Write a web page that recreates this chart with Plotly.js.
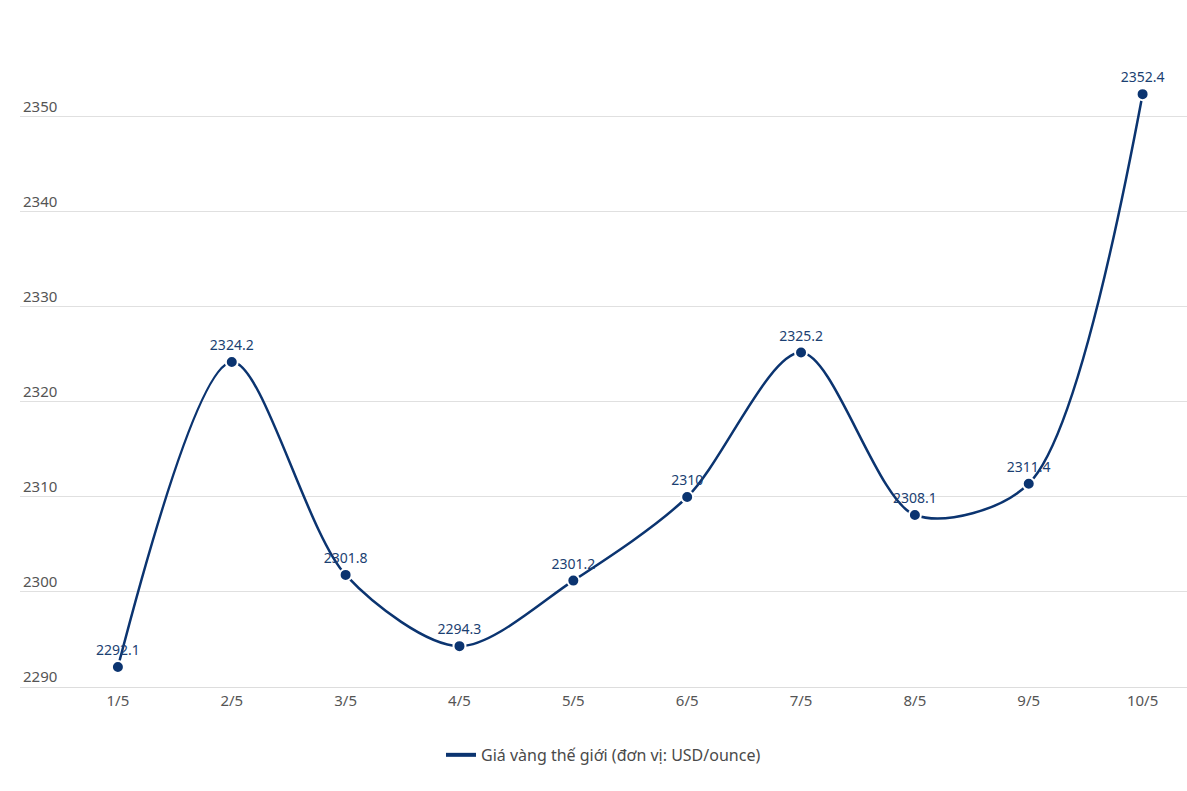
<!DOCTYPE html>
<html>
<head>
<meta charset="utf-8">
<script src="https://cdn.plot.ly/plotly-3.0.1.min.js"></script>
<style>
  body { margin: 0; background: #fff; }
  #chart_div { width: 1187px; height: 791px; }
</style>
</head>
<body>
<div id="chart_div"></div>
<script>
var day_labels = ['1/5', '2/5', '3/5', '4/5', '5/5', '6/5', '7/5', '8/5', '9/5', '10/5'];
var gold_prices = [2292.1, 2324.2, 2301.8, 2294.3, 2301.2, 2310, 2325.2, 2308.1, 2311.4, 2352.4];
var y_ticks = [2290, 2300, 2310, 2320, 2330, 2340, 2350];
var series_name = 'Giá vàng thế giới (đơn vị: USD/ounce)';

var navy = '#0b3470';

function create_price_trace(x_list, y_list)
{
    var price_trace = {
        x: x_list,
        y: y_list,
        mode: 'lines+markers+text',
        line: {
            color: navy,
            width: 2.5,
            shape: 'spline',
            smoothing: 0.85
        },
        marker: {
            color: navy,
            size: 12,
            line: { color: '#ffffff', width: 2 }
        },
        text: y_list.map(String),
        textposition: 'top center',
        textfont: {
            family: 'Noto Sans, sans-serif',
            size: 14,
            color: '#1b3f72'
        },
        cliponaxis: false,
        showlegend: false,
        name: series_name
    };

    return price_trace;
}

// legend entry drawn as a plain thick line, like the original
function create_legend_trace()
{
    return {
        x: [null],
        y: [null],
        mode: 'lines',
        line: { color: navy, width: 4 },
        name: series_name,
        showlegend: true
    };
}

function create_layout()
{
    var layout = {
        width: 1187,
        height: 791,
        margin: { l: 20, r: 0, t: 21, b: 104 },
        paper_bgcolor: '#ffffff',
        plot_bgcolor: '#ffffff',
        font: { family: 'Noto Sans, sans-serif', color: '#555555' },
        showlegend: true,
        legend: {
            orientation: 'h',
            x: 0.5,
            xanchor: 'center',
            y: -0.102,
            yanchor: 'middle',
            font: { size: 16, color: '#4a4a4a' }
        },
        xaxis: {
            type: 'category',
            range: [-0.86, 9.39],
            showgrid: false,
            zeroline: false,
            showline: true,
            linecolor: '#dddddd',
            linewidth: 1,
            ticks: '',
            tickfont: { size: 15, color: '#555555' }
        },
        yaxis: {
            range: [2290, 2360.1],
            tickvals: y_ticks,
            ticktext: y_ticks.map(String),
            ticklabelposition: 'inside top',
            showgrid: true,
            gridcolor: '#e0e0e0',
            gridwidth: 1,
            zeroline: false,
            showline: false,
            ticks: '',
            tickfont: { size: 15, color: '#555555' }
        }
    };

    return layout;
}

Plotly.newPlot('chart_div', [create_price_trace(day_labels, gold_prices), create_legend_trace()], create_layout(), { displayModeBar: false, staticPlot: true });
</script>
</body>
</html>
